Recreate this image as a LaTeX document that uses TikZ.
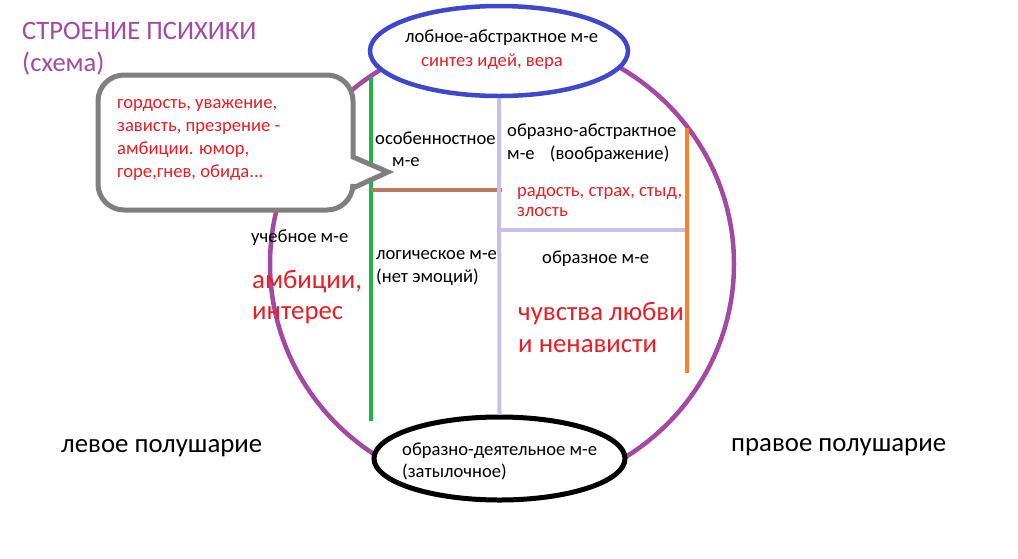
\documentclass[tikz,border=0pt]{standalone}
\usepackage{fontspec}
\setmainfont{Carlito}
\usetikzlibrary{shapes.geometric, positioning}

\definecolor{psyviolet}{RGB}{163,73,164}
\definecolor{psyblue}{RGB}{63,72,204}
\definecolor{psygreen}{RGB}{34,177,76}
\definecolor{psylilac}{RGB}{200,191,231}
\definecolor{psybrown}{RGB}{185,122,87}
\definecolor{psyorange}{RGB}{255,127,39}
\definecolor{psyred}{RGB}{237,28,36}
\definecolor{psygray}{RGB}{127,127,127}

\begin{document}
\begin{tikzpicture}[x=1pt, y=-1pt,
    lbl/.style={anchor=west, inner sep=0pt, align=left, font=\fontsize{18.6}{23}\selectfont},
    redlbl/.style={lbl, text=psyred},
    biglbl/.style={lbl, font=\fontsize{26.8}{31}\selectfont},
    lobe/.style={ellipse, draw, fill=white, line width=4.5pt, inner sep=0pt},
    divider/.style={line width=4.5pt}]

      \useasboundingbox (0,0) rectangle (1018,558);

      % Kontur
      \draw[psyviolet, line width=4.5pt] (502,264) ellipse [x radius=232pt, y radius=228pt];

      % Trennlinien
      \draw[divider, psygreen] (371,77) -- (371,421);
      \draw[divider, psybrown] (371,190) -- (502,190);
      \draw[divider, psylilac, line width=4pt] (500,230) -- (688,230);
      \draw[divider, psyorange] (687,128) -- (687,373);

      % Lappen
      \node[lobe, draw=psyblue, minimum width=258pt, minimum height=90pt] (frontal) at (499,51) {};
      \node[lobe, draw=black, line width=5pt, minimum width=251pt, minimum height=83pt] (occipital) at (499.5,458.5) {};
      \draw[divider, psylilac, line width=4pt] (frontal.south) -- (occipital.north);

      % Sprechblase
      \draw[psygray, line width=5pt, fill=white] (353,130) -- (353,157) -- (388,172) -- (353,188)
        [rounded corners=26pt] -- (353,210) -- (98,210) -- (98,75) -- (353,75) -- (353,130);

      % Texte
      \node[biglbl, text=psyviolet, font=\fontsize{26.6}{32}\selectfont] (title) at (22,49) {СТРОЕНИЕ ПСИХИКИ\\(схема)};
      \node[redlbl, font=\fontsize{18.6}{23.3}\selectfont] (feelings) at (117,140) {гордость, уважение,\\зависть, презрение -\\амбиции. юмор,\\горе,гнев, обида...};
      \node[lbl] (frontaltext) at (405,38) {лобное-абстрактное м-е};
      \node[redlbl] (synthesis) at (421,62) {синтез идей, вера};
      \node[lbl, font=\fontsize{18.6}{22}\selectfont] (occtext) at (402,461) {образно-деятельное м-е\\(затылочное)};
      \node[lbl] (special) at (375,138) {особенностное};
      \node[lbl] (specialme) at (392,162) {м-е};
      \node[lbl] (imagabs) at (507,143.5) {образно-абстрактное\\м-е\hspace{11pt} (воображение)};
      \node[redlbl, font=\fontsize{18.6}{20}\selectfont] (joy) at (517,202) {радость, страх, стыд,\\злость};
      \node[lbl] (study) at (251,238) {учебное м-е};
      \node[biglbl, text=psyred] (ambition) at (252,297.5) {амбиции,\\интерес};
      \node[lbl] (logic) at (376,268.5) {логическое м-е\\(нет эмоций)};
      \node[lbl] (image) at (542,259) {образное м-е};
      \node[biglbl, text=psyred, font=\fontsize{26.8}{32}\selectfont] (love) at (518,327) {чувства любви\\и ненависти};
      \node[biglbl] (left) at (61,448) {левое полушарие};
      \node[biglbl] (right) at (731,447) {правое полушарие};

\end{tikzpicture}
\end{document}
